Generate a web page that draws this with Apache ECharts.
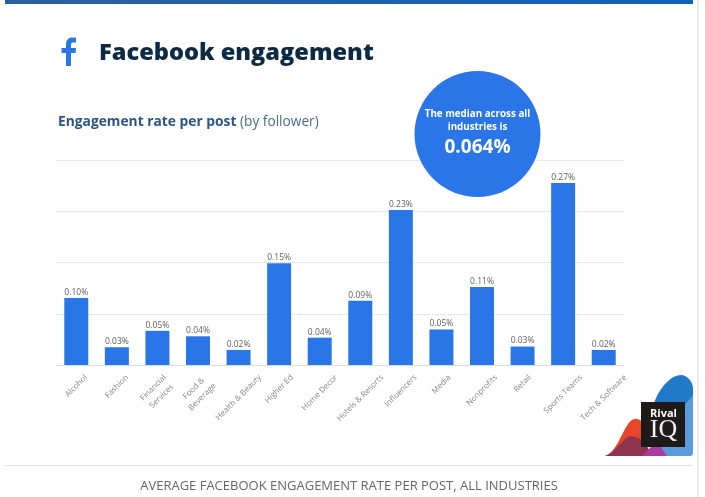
<!DOCTYPE html>
<html><head><meta charset="utf-8">
<style>html,body{margin:0;padding:0;background:#fff}#c{width:705px;height:497px}</style>
<script src="https://cdn.jsdelivr.net/npm/echarts@6/dist/echarts.min.js"></script>
</head><body><div id="c"></div>
<script>
const categories = ['Alcohol','Fashion','Financial\nServices','Food &\nBeverage','Health & Beauty','Higher Ed','Home Decor','Hotels & Resorts','Influencers','Media','Nonprofits','Retail','Sports Teams','Tech & Software'];
const values = [0.098,0.026,0.05,0.042,0.022,0.149,0.04,0.094,0.227,0.052,0.114,0.027,0.2665,0.022];
const FONT = '"Open Sans", sans-serif';
function shape(name,d){echarts.graphic.registerShape(name,echarts.graphic.extendPath(d,{}));return name;}
const fIcon=shape('fIcon','M71 66V53H75.5L76 48H71V45C71 43.6 71.5 42.6 73.3 42.6H76V37.8C75.4 37.7 74 37.6 72.5 37.6C68.6 37.6 66 40 66 44.3V48H61.5V53H66V66Z');
const hillBlue=shape('hillBlue','M650 440C650 425 650 410 656 398C662 385 672 375 681 375C687 375 693 382 693 388V440Z');
const hillLight=shape('hillLight','M660 456V430C672 420 685 405 693 395V452C693 455 692 456 690 456Z');
const hillRed=shape('hillRed','M605 456C618 452 623 426 632 420C637 417 641 420 645 425V456Z');
const hillDark=shape('hillDark','M605 456C612 454 620 444 626 438C631 434 638 437 645 442L652 456Z');
const hillPurple=shape('hillPurple','M642 456L652 446H660L667 456Z');
// Rotated labels are centred on their bar with level tops, which the axis label layout cannot do.
const AXIS_FONT = '8px "Open Sans", sans-serif', AXIS_LINE = 12, AXIS_GAP = 7;
const meas = document.createElement('canvas').getContext('2d');
meas.font = AXIS_FONT;
function renderAxisLabel(params, api){
  const text = categories[api.value(0)];
  const lines = text.split('\n');
  const w = Math.max(...lines.map(s => meas.measureText(s).width));
  const h = lines.length * AXIS_LINE;
  const p = api.coord([api.value(0), 0]);
  return {type:'text', x:p[0], y:p[1] + AXIS_GAP + (w + h) * Math.SQRT1_2 / 2, rotation:Math.PI/4,
    style:{text, font:AXIS_FONT, fill:'#858585', lineHeight:AXIS_LINE, align:'center', verticalAlign:'middle'}};
}
const chart = echarts.init(document.getElementById('c'), null, {renderer:'canvas'});
chart.setOption({
  animation:false,
  backgroundColor:'#fff',
  grid:{left:56,right:81,top:160,bottom:132},
  xAxis:{type:'category',data:categories,
    axisLine:{lineStyle:{color:'#dcdcdc',width:1}},axisTick:{show:false},axisLabel:{show:false}},
  yAxis:{type:'value',min:0,max:0.3,interval:0.075,
    axisLine:{show:false},axisTick:{show:false},axisLabel:{show:false},
    splitLine:{lineStyle:{color:'#d4d4d4',type:'dotted',width:1}}},
  series:[
    {type:'bar',data:values,barWidth:24,itemStyle:{color:'#2a76e8'},
      label:{show:true,position:'top',distance:1,color:'#5e5e5e',fontFamily:FONT,fontSize:8.5,
        formatter:p=>p.value.toFixed(2)+'%'}},
    {type:'custom',data:categories.map((c,i)=>[i]),encode:{x:0},clip:false,silent:true,renderItem:renderAxisLabel}
  ],
  graphic:[
    {type:'rect',z:1,shape:{x:5,y:0,width:688,height:4},style:{fill:new echarts.graphic.LinearGradient(0,0,1,0,[{offset:0,color:'#2f5f9e'},{offset:1,color:'#0f62bd'}])}},
    {type:'rect',shape:{x:697,y:0,width:2,height:497},style:{fill:'#ececec'}},
    {type:'rect',shape:{x:5,y:465,width:688,height:1},style:{fill:'#e2e2e2'}},
    {type:fIcon,style:{fill:'#2a76e8'}},
    {type:'text',x:99,y:53,style:{text:'Facebook engagement',font:'800 23.6px '+FONT,fill:'#0c2a44',textVerticalAlign:'middle'}},
    {type:'text',x:58,y:122,style:{text:'Engagement rate per post',font:'700 13.8px '+FONT,fill:'#2c5585',textVerticalAlign:'middle'}},
    {type:'text',x:240,y:122,style:{text:'(by follower)',font:'400 13.7px '+FONT,fill:'#4a6a8c',textVerticalAlign:'middle'}},
    {type:'circle',z:20,shape:{cx:477.5,cy:134,r:63},style:{fill:'#2a76e8'}},
    {type:'text',z:21,x:477.5,y:114.5,style:{text:'The median across all',font:'700 9.8px '+FONT,fill:'#fff',textAlign:'center',textVerticalAlign:'middle'}},
    {type:'text',z:21,x:477.5,y:127.5,style:{text:'industries is',font:'700 9.8px '+FONT,fill:'#fff',textAlign:'center',textVerticalAlign:'middle'}},
    {type:'text',z:21,x:477.5,y:148,style:{text:'0.064%',font:'700 19px '+FONT,fill:'#fff',textAlign:'center',textVerticalAlign:'middle'}},
    {type:'text',x:349,y:486,style:{text:'AVERAGE FACEBOOK ENGAGEMENT RATE PER POST, ALL INDUSTRIES',font:'400 13px '+FONT,fill:'#666',textAlign:'center',textVerticalAlign:'middle'}},
    {type:hillBlue,z:5,style:{fill:'#2179c9'}},
    {type:hillLight,z:6,style:{fill:'#5b9bdc'}},
    {type:hillRed,z:7,style:{fill:'#e8452c'}},
    {type:hillDark,z:8,style:{fill:'#8e3350'}},
    {type:hillPurple,z:9,style:{fill:'#a83aa0'}},
    {type:'rect',z:10,shape:{x:641,y:402,width:44,height:45},style:{fill:'#1e1a1a'}},
    {type:'text',z:11,x:663.5,y:414,style:{text:'Rival',font:'700 11px '+FONT,fill:'#fff',textAlign:'center',textVerticalAlign:'middle'}},
    {type:'text',z:11,x:663.5,y:430,style:{text:'IQ',font:'400 26px "Liberation Serif", serif',fill:'#eee',textAlign:'center',textVerticalAlign:'middle'}}
  ]
});
</script></body></html>
